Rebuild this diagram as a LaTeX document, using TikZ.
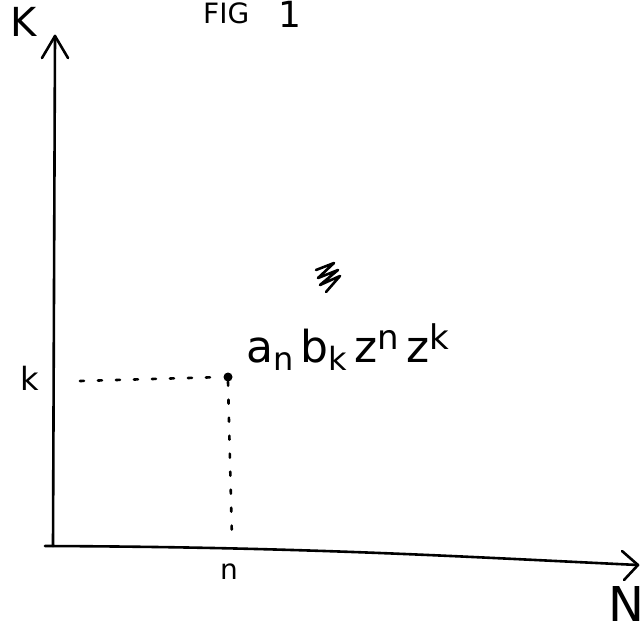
\documentclass[tikz,border=0pt]{standalone}
\usepackage{fontspec}
\setmainfont{DejaVu Sans}
\usetikzlibrary{arrows.meta}
\newcommand{\lowtxt}[1]{\raisebox{-8pt}{\fontsize{32}{32}\selectfont #1}}
\newcommand{\hightxt}[1]{\raisebox{13pt}{\fontsize{34}{34}\selectfont #1}}
\begin{document}
\begin{tikzpicture}[x=1pt,y=-1pt,
  axis/.style={line width=2.6pt,line cap=round},
  barb/.style={line width=2.6pt,line cap=round,line join=round},
  lbl/.style={inner sep=0pt},
  guide/.style={line width=2.6pt,dash pattern=on 4pt off 14pt,line cap=round}]
\useasboundingbox[fill=white] (0,0) rectangle (644,634);
% axes
\coordinate (ytop) at (55,36);
\coordinate (xend) at (638,565);
\draw[axis] (53,546) -- (ytop);
\draw[barb] (42,58) -- (ytop) -- (68,58);
\draw[axis] (45,546) .. controls (300,547) and (450,556) .. (xend);
\draw[barb] (622,551) -- (xend) -- (624,580);
% labels
\node[lbl,font=\fontsize{40}{40}\selectfont] (K) at (24,22) {K};
\node[lbl,font=\fontsize{48}{48}\selectfont] (N) at (626,604) {N};
\node[lbl,font=\fontsize{32}{32}\selectfont] (kl) at (30,378) {k};
\node[lbl,font=\fontsize{28}{28}\selectfont] (nl) at (229,572) {n};
\node[lbl,font=\fontsize{28}{28}\selectfont,anchor=base west] (fig) at (203,24) {FIG};
\node[lbl,font=\fontsize{36}{36}\selectfont,anchor=base west] (one) at (278,28) {1};
% point
\node[circle,fill=black,inner sep=0pt,minimum size=9pt] (p) at (228,377) {};
\coordinate (kstart) at (80,381);
\coordinate (nend) at (232,540);
\draw[guide] (kstart) -- (p.west);
\draw[guide] (p.south) -- (nend);
\node[lbl,anchor=base west,font=\fontsize{44}{44}\selectfont] (term) at (246,362)
  {a\lowtxt{n}\,b\lowtxt{k}\,z\hightxt{n}\,z\hightxt{k}};
% scribble
\draw[line width=2.6pt,line cap=round,line join=round]
  (316,270) -- (334,263) -- (318,278) -- (338,270) -- (320,285) -- (340,276) -- (326,292);
\end{tikzpicture}
\end{document}
